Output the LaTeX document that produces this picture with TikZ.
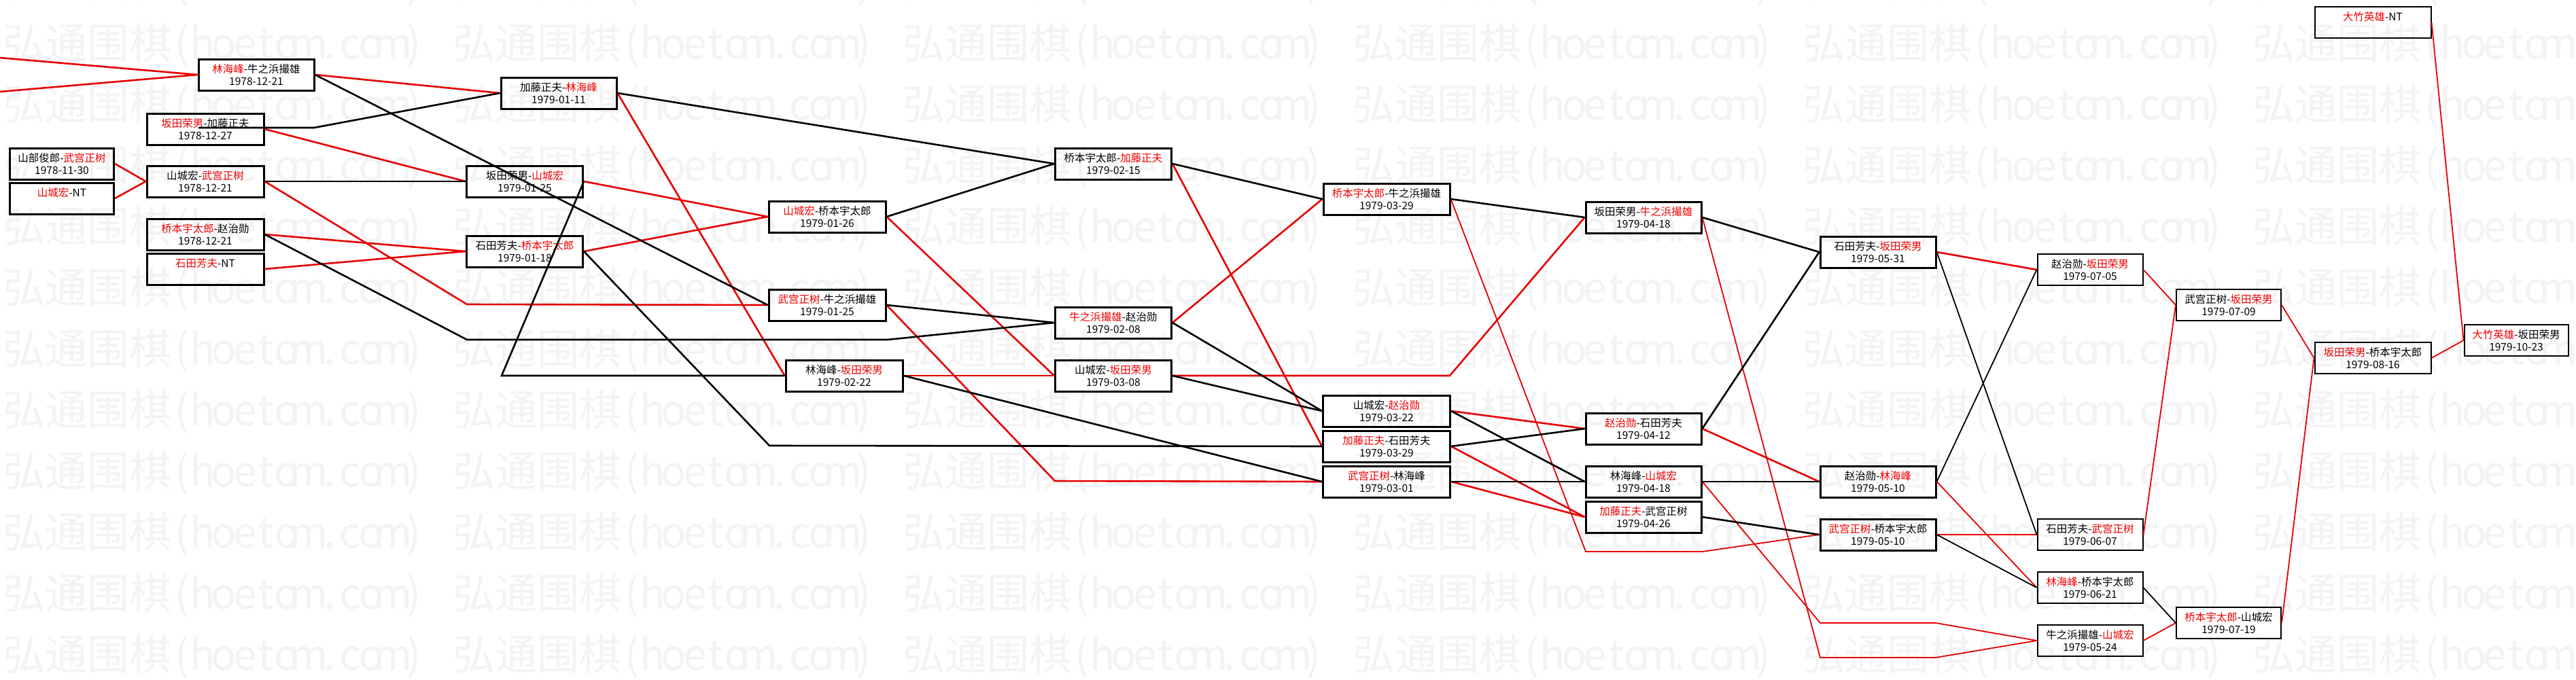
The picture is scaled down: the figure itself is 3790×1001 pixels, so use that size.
\documentclass[tikz,border=0pt]{standalone}
\usepackage{fontspec}
\setmainfont{Noto Sans CJK SC}
\definecolor{lred}{RGB}{230,0,0}
\definecolor{tred}{RGB}{240,0,0}
\definecolor{wmgray}{RGB}{243,243,243}
\newcommand\redn[1]{\textcolor{tred}{#1}}
\newcommand\wmc[1]{\makebox[0.5em]{#1}}
\newcommand\wmtext{弘通围棋\wmc{(}\wmc{h}\wmc{o}\wmc{e}\wmc{t}\wmc{o}\wmc{m}\wmc{.}\wmc{c}\wmc{o}\wmc{m}\wmc{)}}
\begin{document}
\begin{tikzpicture}[x=1pt,y=-1pt,
  box/.style={draw=black, line width=3pt, minimum height=46pt, inner sep=0pt,
    align=center, font=\fontsize{15.5}{18}\selectfont},
  tbox/.style={box, line width=2pt},
  wm/.style={anchor=west, inner sep=0pt, text=wmgray, font=\fontsize{62}{66}\selectfont},
  rl/.style={draw=lred, line width=2.6pt},
  bl/.style={draw=black, line width=2.6pt},
  rlt/.style={draw=lred, line width=1.8pt},
  blt/.style={draw=black, line width=1.8pt}]
\useasboundingbox (0,0) rectangle (3790,1001);
\fill[white] (0,0) rectangle (3790,1001);
% watermark
\foreach \r in {0,...,11}{
  \foreach \c in {0,...,6}{
    \node[wm] (wm r\r c\c) at ({-658+662*\c},{-23+90*\r}) {\wmtext};
  }
}
% nodes
\node[box, minimum width=153pt] (A1) at (91,241) {山部俊郎-\redn{武宫正树}\\1978-11-30};
\node[box, minimum width=153pt] (A2) at (91,292) {\redn{山城宏}-NT\\\phantom{0}};
\node[box, minimum width=172pt] (B1) at (302,190) {\redn{坂田荣男}-加藤正夫\\1978-12-27};
\node[box, minimum width=172pt] (B2) at (302,267) {山城宏-\redn{武宫正树}\\1978-12-21};
\node[box, minimum width=172pt] (B3) at (302,345) {\redn{桥本宇太郎}-赵治勋\\1978-12-21};
\node[box, minimum width=172pt] (B4) at (302,396) {\redn{石田芳夫}-NT\\\phantom{0}};
\node[box, minimum width=170pt] (C1) at (377,110) {\redn{林海峰}-牛之浜撮雄\\1978-12-21};
\node[box, minimum width=170pt] (D1) at (822,137) {加藤正夫-\redn{林海峰}\\1979-01-11};
\node[box, minimum width=171pt] (D2) at (772,267) {坂田荣男-\redn{山城宏}\\1979-01-25};
\node[box, minimum width=171pt] (D3) at (772,370) {石田芳夫-\redn{桥本宇太郎}\\1979-01-18};
\node[box, minimum width=172pt] (E1) at (1217,319) {\redn{山城宏}-桥本宇太郎\\1979-01-26};
\node[box, minimum width=172pt] (E2) at (1217,449) {\redn{武宫正树}-牛之浜撮雄\\1979-01-25};
\node[box, minimum width=172pt] (E3) at (1242,553) {林海峰-\redn{坂田荣男}\\1979-02-22};
\node[box, minimum width=171pt] (F1) at (1638,241) {桥本宇太郎-\redn{加藤正夫}\\1979-02-15};
\node[box, minimum width=171pt] (F2) at (1638,475) {\redn{牛之浜撮雄}-赵治勋\\1979-02-08};
\node[box, minimum width=171pt] (F3) at (1638,553) {山城宏-\redn{坂田荣男}\\1979-03-08};
\node[box, minimum width=186pt] (G1) at (2040,293) {\redn{桥本宇太郎}-牛之浜撮雄\\1979-03-29};
\node[box, minimum width=187pt] (G2) at (2040,605) {山城宏-\redn{赵治勋}\\1979-03-22};
\node[box, minimum width=187pt] (G3) at (2040,657) {\redn{加藤正夫}-石田芳夫\\1979-03-29};
\node[box, minimum width=187pt] (G4) at (2040,709) {\redn{武宫正树}-林海峰\\1979-03-01};
\node[box, minimum width=170pt] (H1) at (2418,320) {坂田荣男-\redn{牛之浜撮雄}\\1979-04-18};
\node[box, minimum width=170pt] (H2) at (2418,631) {\redn{赵治勋}-石田芳夫\\1979-04-12};
\node[box, minimum width=170pt] (H3) at (2418,709) {林海峰-\redn{山城宏}\\1979-04-18};
\node[box, minimum width=170pt] (H4) at (2418,761) {\redn{加藤正夫}-武宫正树\\1979-04-26};
\node[box, minimum width=170pt] (I1) at (2763,371) {石田芳夫-\redn{坂田荣男}\\1979-05-31};
\node[box, minimum width=170pt] (I2) at (2763,709) {赵治勋-\redn{林海峰}\\1979-05-10};
\node[box, minimum width=170pt] (I3) at (2763,787) {\redn{武宫正树}-桥本宇太郎\\1979-05-10};
\node[tbox, minimum width=155pt] (J1) at (3075,397) {赵治勋-\redn{坂田荣男}\\1979-07-05};
\node[tbox, minimum width=155pt] (J2) at (3075,787) {石田芳夫-\redn{武宫正树}\\1979-06-07};
\node[tbox, minimum width=155pt] (J3) at (3075,865) {\redn{林海峰}-桥本宇太郎\\1979-06-21};
\node[tbox, minimum width=155pt] (J4) at (3075,943) {牛之浜撮雄-\redn{山城宏}\\1979-05-24};
\node[tbox, minimum width=154pt] (K1) at (3279,449) {武宫正树-\redn{坂田荣男}\\1979-07-09};
\node[tbox, minimum width=154pt] (K2) at (3279,917) {\redn{桥本宇太郎}-山城宏\\1979-07-19};
\node[tbox, minimum width=171pt] (L1) at (3491,33) {\redn{大竹英雄}-NT\\\phantom{0}};
\node[tbox, minimum width=171pt] (L2) at (3491,527) {\redn{坂田荣男}-桥本宇太郎\\1979-08-16};
\node[tbox, minimum width=153pt] (M1) at (3702,501) {\redn{大竹英雄}-坂田荣男\\1979-10-23};
% free ends
\coordinate (in1) at (0,85);
\coordinate (in2) at (0,135);
\coordinate (kt1) at (292,188);
\coordinate (kt2) at (462,188);
% red connectors
\draw[rl] (in1) -- (C1.west);
\draw[rl] (in2) -- (C1.west);
\draw[rl] (C1.east) -- (D1.west);
\draw[rl] (B1.east) -- (D2.west);
\draw[rl] (A1.east) -- (B2.west);
\draw[rl] (A2.east) -- (B2.west);
\draw[rl] (B2.east) -- (687,448) -- (E2.west);
\draw[rl] (B3.east) -- (D3.west);
\draw[rl] (B4.east) -- (D3.west);
\draw[rl] (D1.east) -- (E3.west);
\draw[rl] (D2.east) -- (E1.west);
\draw[rl] (D3.east) -- (E1.west);
\draw[rl] (E1.east) -- (F3.west);
\draw[rl] (E2.east) -- (1552,708) -- (G4.west);
\draw[rl] (E3.east) -- (F3.west);
\draw[rl] (F1.east) -- (G3.west);
\draw[rl] (F2.east) -- (G1.west);
\draw[rl] (F3.east) -- (2133,553) -- (H1.west);
\draw[rlt] (G1.east) -- (2333,812) -- (2505,812) -- (I3.west);
\draw[rl] (G2.east) -- (H2.west);
\draw[rl] (G3.east) -- (H4.west);
\draw[rl] (G4.east) -- (H4.west);
\draw[rlt] (H1.east) -- (2678,968) -- (2848,968) -- (J4.west);
\draw[rl] (H2.east) -- (I2.west);
\draw[rlt] (H3.east) -- (2678,917) -- (2848,917) -- (J4.west);
\draw[rl] (I1.east) -- (J1.west);
\draw[rlt] (I2.east) -- (J3.west);
\draw[rlt] (I3.east) -- (J2.west);
\draw[rlt] (J1.east) -- (K1.west);
\draw[rlt] (J2.east) -- (K1.west);
\draw[rlt] (J4.east) -- (K2.west);
\draw[rlt] (K1.east) -- (L2.west);
\draw[rlt] (K2.east) -- (L2.west);
\draw[rlt] (L2.east) -- (M1.west);
\draw[rlt] (L1.east) -- (M1.west);
% black connectors
\draw[bl] (C1.east) -- (E2.west);
\draw[bl] (kt1) -- (kt2) -- (D1.west);
\draw[bl] (B2.east) -- (D2.west);
\draw[bl] (B3.east) -- (687,500) -- (1306,500) -- (F2.west);
\draw[bl] (D1.east) -- (F1.west);
\draw[bl] (D2.east) -- (738,553) -- (E3.west);
\draw[bl] (D3.east) -- (1132,656) -- (G3.west);
\draw[bl] (E1.east) -- (F1.west);
\draw[bl] (E2.east) -- (F2.west);
\draw[bl] (E3.east) -- (G4.west);
\draw[bl] (F1.east) -- (G1.west);
\draw[bl] (F2.east) -- (G2.west);
\draw[bl] (F3.east) -- (G2.west);
\draw[bl] (G1.east) -- (H1.west);
\draw[bl] (G2.east) -- (H3.west);
\draw[bl] (G3.east) -- (H2.west);
\draw[bl] (G4.east) -- (H3.west);
\draw[bl] (H1.east) -- (I1.west);
\draw[bl] (H2.east) -- (I1.west);
\draw[bl] (H3.east) -- (I2.west);
\draw[bl] (H4.east) -- (I3.west);
\draw[blt] (I1.east) -- (J2.west);
\draw[blt] (I2.east) -- (J1.west);
\draw[blt] (I3.east) -- (J3.west);
\draw[blt] (J3.east) -- (K2.west);
\end{tikzpicture}
\end{document}
